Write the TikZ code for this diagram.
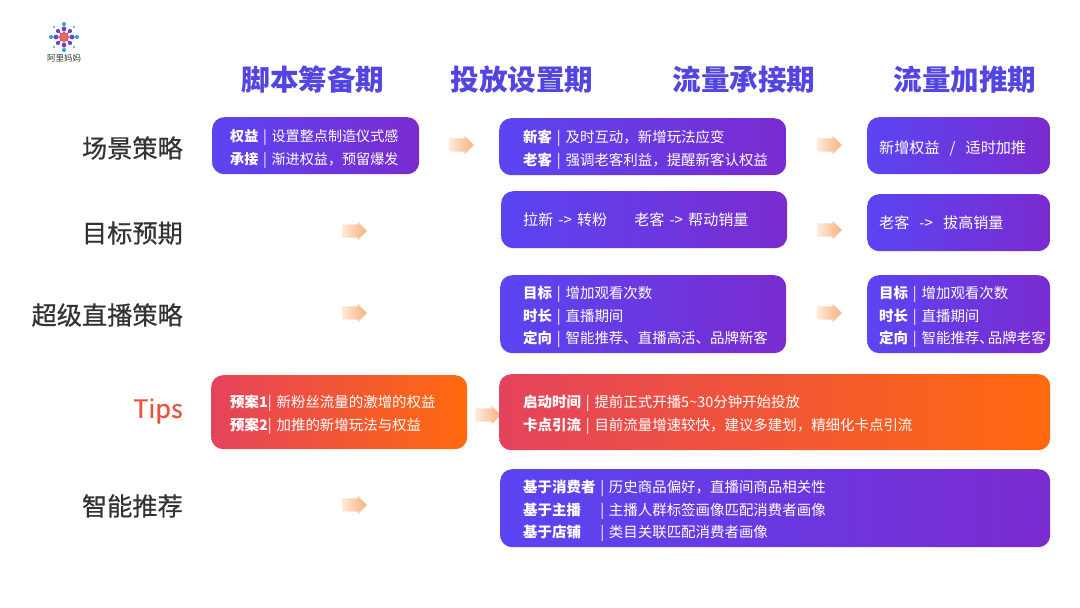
\documentclass[tikz,border=0pt]{standalone}
\usepackage{fontspec}
\usepackage{xcolor}
\usepackage{tikz}
\usetikzlibrary{shapes.arrows}
\setmainfont{Noto Sans CJK SC}
\newfontfamily\rowfont{Noto Sans CJK SC}[FakeBold=0.6]
\definecolor{headblue}{HTML}{5346E0}
\definecolor{boxblue}{HTML}{5A45F2}
\definecolor{boxpurple}{HTML}{7A2BCF}
\definecolor{boxred}{HTML}{E4435C}
\definecolor{boxorange}{HTML}{FF6A0E}
\definecolor{rowgray}{HTML}{333333}
\definecolor{tipsred}{HTML}{E8553F}
\definecolor{arrowfaint}{HTML}{FDEBDD}
\definecolor{arrowpale}{HTML}{FCCDAB}
\definecolor{arroworange}{HTML}{FAB083}
\definecolor{logoblue}{HTML}{3FA3D8}
\definecolor{logopurple}{HTML}{6A45C8}
\definecolor{logopink}{HTML}{D84FA8}
\definecolor{logoorange}{HTML}{F0702A}
\tikzstyle{period}=[font={\fontsize{28.6}{32}\selectfont\bfseries},text=headblue]
\tikzstyle{rowlabel}=[anchor=east,inner sep=0pt,font={\fontsize{25.2}{30}\rowfont\selectfont},text=rowgray]
\tikzstyle{planbox}=[rounded corners=12pt,text=white,align=left,inner sep=0pt,anchor=north west,font={\fontsize{14.45}{22.8}\selectfont}]
\tikzstyle{oneline}=[font={\fontsize{15.1}{24}\selectfont}]
\tikzstyle{bluebox}=[planbox,left color=boxblue,right color=boxpurple]
\tikzstyle{redbox}=[planbox,left color=boxred,right color=boxorange]
\tikzstyle{flowarrow}=[single arrow,left color=arrowfaint,right color=arroworange,middle color=arrowpale,text height=13pt,text depth=0pt,minimum height=25pt,minimum width=18pt,single arrow head extend=2.5pt,single arrow tip angle=90,inner sep=0pt]
\tikzset{textpad/.style={execute at begin node={\leftskip=#1pt}}}
\newcommand{\toprow}{\rule{0pt}{18pt}}

\begin{document}
\begin{tikzpicture}[x=1pt,y=-1pt]
	\useasboundingbox (0,0) rectangle (1080,608);
	% logo
	\begin{scope}[shift={(64,37)}]
		\draw[logopurple,line width=.8pt] (-13,0) -- (13,0) (0,-13) -- (0,13) (-7,-7) -- (7,7) (-7,7) -- (7,-7);
		\fill[logoblue] (-13,0) circle (2.1pt) (13,0) circle (2.1pt) (0,-13) circle (2.1pt) (0,13) circle (2.1pt);
		\fill[logoblue] (-10,-10) circle (1.1pt) (10,-10) circle (1.1pt) (-10,10) circle (1.1pt) (10,10) circle (1.1pt);
		\fill[logopurple] (-8,0) circle (2.4pt) (8,0) circle (2.4pt) (0,-8) circle (2.4pt) (0,8) circle (2.4pt);
		\fill[logopurple] (-6,-6) circle (2.1pt) (6,-6) circle (2.1pt) (-6,6) circle (2.1pt) (6,6) circle (2.1pt);
		\fill[logopink] (0,0) circle (5pt);
		\fill[logoorange] (0,0) circle (3.6pt);
	\end{scope}
	\node [inner sep=0pt,font={\fontsize{8.5}{9}\selectfont},text=rowgray] (logotext) at (64,58) {阿里妈妈};
	% column heads
	\node [period] (script) at (313,80) {脚本筹备期};
	\node [period] (setup) at (522,80) {投放设置期};
	\node [period] (receive) at (744,80) {流量承接期};
	\node [period] (boost) at (965,80) {流量加推期};
	% row labels
	\node [rowlabel] (scene) at (183,148) {场景策略};
	\node [rowlabel] (goal) at (183,233) {目标预期};
	\node [rowlabel] (super) at (183,315) {超级直播策略};
	\node [rowlabel,text=tipsred] (tips) at (183,411) {Tips};
	\node [rowlabel] (smart) at (183,506) {智能推荐};
	% row 1
	\node [bluebox,font={\fontsize{14.1}{22.8}\selectfont},textpad=18,minimum height=57pt,text width=207pt] (scenea) at (212,117) {\toprow\textbf{权益} | 设置整点制造仪式感\\\textbf{承接} | 渐进权益，预留爆发};
	\node [flowarrow] (scenearrowa) at (458,145) {};
	\node [bluebox,textpad=24,minimum height=57pt,text width=287pt] (sceneb) at (499,118) {\toprow\textbf{新客} | 及时互动，新增玩法应变\\\textbf{老客} | 强调老客利益，提醒新客认权益};
	\node [flowarrow] (scenearrowb) at (826,145) {};
	\node [bluebox,oneline,textpad=12,minimum height=57pt,text width=183pt] (scenec) at (867,117) {\toprow 新增权益 ~/~ 适时加推};
	% row 2
	\node [flowarrow] (goalarrowa) at (351,231) {};
	\node [bluebox,oneline,textpad=22,minimum height=57pt,text width=286pt] (goalb) at (501,191) {拉新 -> 转粉\hspace{27pt}老客 -> 帮动销量};
	\node [flowarrow] (goalarrowb) at (826,230) {};
	\node [bluebox,oneline,textpad=12,minimum height=57pt,text width=183pt] (goalc) at (867,194) {\raisebox{1.5pt}{老客 ~-> ~拔高销量}};
	% row 3
	\node [flowarrow] (superarrowa) at (351,313) {};
	\node [bluebox,textpad=23,minimum height=78pt,text width=286pt] (superb) at (500,275) {\toprow\textbf{目标} | 增加观看次数\\\textbf{时长} | 直播期间\\\textbf{定向} | 智能推荐、直播高活、品牌新客};
	\node [flowarrow] (superarrowb) at (826,313) {};
	\node [bluebox,textpad=12,minimum height=78pt,text width=183pt] (superc) at (867,275) {\toprow\textbf{目标} | 增加观看次数\\\textbf{时长} | 直播期间\\\textbf{定向} | 智能推荐、\hspace{-6pt}品牌老客};
	% row 4
	\node [redbox,textpad=19,minimum height=74pt,text width=256pt] (tipsa) at (211,375) {\toprow\textbf{预案1}| 新粉丝流量的激增的权益\\\textbf{预案2}| 加推的新增玩法与权益};
	\node [flowarrow] (tipsarrow) at (485,415) {};
	\node [redbox,textpad=24,minimum height=76pt,text width=551pt] (tipsb) at (499,374) {\toprow\textbf{启动时间} | 提前正式开播5\textasciitilde30分钟开始投放\\\textbf{卡点引流} | 目前流量增速较快，建议多建划，精细化卡点引流};
	% row 5
	\node [flowarrow] (smartarrow) at (351,505) {};
	\node [bluebox,textpad=23,minimum height=78pt,text width=550pt] (smartb) at (500,469) {\toprow\textbf{基于消费者} | 历史商品偏好，直播间商品相关性\\\textbf{基于主播\hphantom{者}} | 主播人群标签画像匹配消费者画像\\\textbf{基于店铺\hphantom{者}} | 类目关联匹配消费者画像};
\end{tikzpicture}
\end{document}
